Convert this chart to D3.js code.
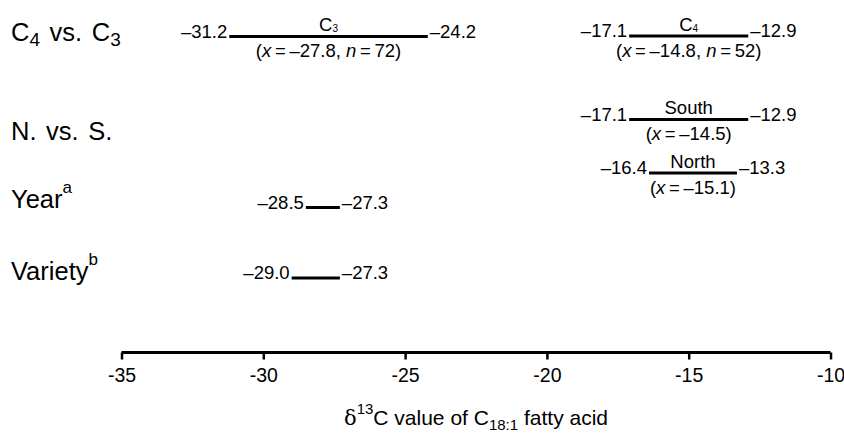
<!DOCTYPE html>
<html>
<head>
<meta charset="utf-8">
<script src="https://cdn.jsdelivr.net/npm/d3@7"></script>
<style>
  body { margin: 0; background: #fff; }
  text { font-family: "Liberation Sans", Arial, sans-serif; fill: #000; }
</style>
</head>
<body>
<div id="chart"></div>
<script>
// ranges of d13C values per group
var rangeKeys = ["C3", "C4", "South", "North", "Year", "Variety"];
var rangeMin = [-31.2, -17.1, -17.1, -16.4, -28.5, -29.0];
var rangeMax = [-24.2, -12.9, -12.9, -13.3, -27.3, -27.3];
var rangeTitle = ["C3", "C4", "South", "North", "", ""];
var rangeMean = [-27.8, -14.8, -14.5, -15.1, null, null];
var rangeN = [72, 52, null, null, null, null];
var xTicks = [-35, -30, -25, -20, -15, -10];

var width = 844, height = 434;
var fs = 18.5;
var thin = "\u2009";

var svg = d3.select("#chart")
  .append("svg")
  .attr("width", width)
  .attr("height", height);

var x = d3.scaleLinear()
  .domain([-35, -10])
  .range([121.5, 830.5]);

// vertical placement of each bar (layout, not data)
var yPos = { C3: 36.5, C4: 36, South: 119.5, North: 173, Year: 207.5, Variety: 278 };

function fmt(v) { return "\u2013" + Math.abs(v).toFixed(1); }

// row labels
var rows = svg.append("g").style("font-size", "25.5px").style("word-spacing", "2.5px");
var r1 = rows.append("text").attr("x", 11).attr("y", 41);
r1.append("tspan").text("C");
r1.append("tspan").style("font-size", "19px").attr("dy", 5).text("4");
r1.append("tspan").attr("dy", -5).text(" vs. C");
r1.append("tspan").style("font-size", "19px").attr("dy", 5).text("3");
rows.append("text").attr("x", 11).attr("y", 140).text("N. vs. S.");
var r3 = rows.append("text").attr("x", 11).attr("y", 207.5);
r3.append("tspan").text("Year");
r3.append("tspan").style("font-size", "17px").attr("dy", -15).text("a");
var r4 = rows.append("text").attr("x", 11).attr("y", 280);
r4.append("tspan").text("Variety");
r4.append("tspan").style("font-size", "17px").attr("dy", -15).text("b");

var data = rangeKeys.map(function(k, i) {
  return { key: k, min: rangeMin[i], max: rangeMax[i], title: rangeTitle[i], mean: rangeMean[i], n: rangeN[i] };
});

var g = svg.selectAll(".range")
  .data(data)
  .enter().append("g")
  .attr("class", "range")
  .style("font-size", fs + "px");

g.append("line")
  .attr("x1", function(d) { return x(d.min); })
  .attr("x2", function(d) { return x(d.max); })
  .attr("y1", function(d) { return yPos[d.key]; })
  .attr("y2", function(d) { return yPos[d.key]; })
  .attr("stroke", "#000")
  .attr("stroke-width", 3);

g.append("text")
  .attr("x", function(d) { return x(d.min) - 2; })
  .attr("y", function(d) { return yPos[d.key] + 1; })
  .attr("text-anchor", "end")
  .text(function(d) { return fmt(d.min); });

g.append("text")
  .attr("x", function(d) { return x(d.max) + 2; })
  .attr("y", function(d) { return yPos[d.key] + 1; })
  .text(function(d) { return fmt(d.max); });

// title above bar
g.filter(function(d) { return d.title; }).each(function(d) {
  var t = d3.select(this).append("text")
    .attr("x", x((d.min + d.max) / 2))
    .attr("y", yPos[d.key] - 5.5)
    .attr("text-anchor", "middle");
  if (d.title.length === 2) {
    t.append("tspan").text(d.title[0]);
    t.append("tspan").style("font-size", "10px").attr("dy", 1).text(d.title[1]);
  } else {
    t.text(d.title);
  }
});

// mean (and n) below bar
g.filter(function(d) { return d.mean != null; }).each(function(d) {
  var t = d3.select(this).append("text")
    .attr("x", x((d.min + d.max) / 2))
    .attr("y", yPos[d.key] + 20.5)
    .attr("text-anchor", "middle");
  t.append("tspan").text("(");
  t.append("tspan").style("font-style", "italic").text("x");
  t.append("tspan").text(thin + "=" + thin + fmt(d.mean));
  if (d.n != null) {
    t.append("tspan").text(", ");
    t.append("tspan").style("font-style", "italic").text("n");
    t.append("tspan").text(thin + "=" + thin + d.n);
  }
  t.append("tspan").text(")");
});

// x axis
var axis = svg.append("g")
  .attr("transform", "translate(0,352.5)")
  .call(d3.axisBottom(x).tickValues(xTicks).tickSize(7).tickPadding(8).tickFormat(d3.format("d")));
axis.select(".domain").attr("stroke-width", 3).attr("d", "M" + x(-35) + ",0H" + x(-10));
axis.selectAll(".tick line").attr("stroke-width", 2.5);
axis.selectAll(".tick text")
  .style("font-size", "19.5px")
  .style("font-family", "Liberation Sans, Arial, sans-serif")
  .attr("y", 29.5)
  .attr("dy", 0)
  .text(function(d) { return "-" + Math.abs(d); });

var title = svg.append("text")
  .attr("x", 476)
  .attr("y", 425)
  .attr("text-anchor", "middle")
  .style("font-size", "21px");
title.append("tspan").style("font-family", "DejaVu Serif, serif").text("\u03b4");
title.append("tspan").style("font-size", "15px").attr("dy", -11).text("13");
title.append("tspan").attr("dy", 11).text("C value of C");
title.append("tspan").style("font-size", "15px").attr("dy", 5).text("18:1");
title.append("tspan").attr("dy", -5).text(" fatty acid");
</script>
</body>
</html>
